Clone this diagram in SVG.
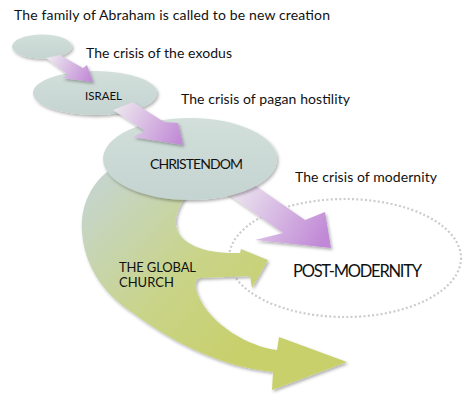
<svg xmlns="http://www.w3.org/2000/svg" width="464" height="404" viewBox="0 0 464 404">
<defs>
<style>
.t{font-family:Lato,"Open Sans","Liberation Sans",sans-serif;fill:#111;}
.lbl{font-size:14px;}
.ell{fill:url(#gEll);filter:url(#sh);}
</style>
<filter id="sh" x="-20%" y="-20%" width="140%" height="140%">
<feDropShadow dx="1.5" dy="2" stdDeviation="1.5" flood-color="#000" flood-opacity="0.3"/>
</filter>
<linearGradient id="gEll" x1="0" y1="0" x2="0" y2="1">
<stop offset="0" stop-color="#d2dfdb"/>
<stop offset="1" stop-color="#c4d4d0"/>
</linearGradient>
<linearGradient id="gGreen" gradientUnits="userSpaceOnUse" x1="90" y1="190" x2="250" y2="340">
<stop offset="0" stop-color="#c5d5cc"/>
<stop offset="0.55" stop-color="#c9d48a"/>
<stop offset="1" stop-color="#c8d06c"/>
</linearGradient>
<linearGradient id="gP1" gradientUnits="userSpaceOnUse" x1="50" y1="56" x2="90" y2="80">
<stop offset="0" stop-color="#ece6ee"/>
<stop offset="1" stop-color="#c28bd6"/>
</linearGradient>
<linearGradient id="gP2" gradientUnits="userSpaceOnUse" x1="118" y1="104" x2="180" y2="140">
<stop offset="0" stop-color="#ece6ee"/>
<stop offset="1" stop-color="#c28bd6"/>
</linearGradient>
<linearGradient id="gP3" gradientUnits="userSpaceOnUse" x1="230" y1="185" x2="325" y2="240">
<stop offset="0" stop-color="#eeeaf0"/>
<stop offset="1" stop-color="#c088d6"/>
</linearGradient>
</defs>
<rect width="464" height="404" fill="#fff"/>

<g id="node-postmodernity">
<ellipse cx="345" cy="258" rx="116" ry="59" fill="none" stroke="#cccccc" stroke-width="2.2" stroke-dasharray="2 2.3"/>
<text class="t" x="293" y="277" font-size="16.5" textLength="129">POST-MODERNITY</text>
</g>

<g id="node-global-church">
<path d="M112,168 C92,182 80,205 82,232 C84,262 100,292 133,313 C165,337 215,366 273,372 L272,390 L347,362 L279,337 L277,350 C250,347 210,325 198,295 C195,287 194,280 200,278 L250,276 L252,288 L268,260 L241,249 L240,253 C210,254 186,247 178,232 C172,218 180,205 186,196 L200,190 L160,160 Z" fill="url(#gGreen)" filter="url(#sh)"/>
<text class="t" x="119" y="272" font-size="13" textLength="77">THE GLOBAL</text>
<text class="t" x="119" y="287" font-size="13">CHURCH</text>
</g>

<g id="connectors">
<path id="arrow-modernity" d="M240,175 L305,220 L325,212 L331,248 L255,240 L283,233 L222,190 Z" fill="url(#gP3)" filter="url(#sh)"/>
</g>

<g id="node-origin">
<ellipse class="ell" cx="42" cy="46.5" rx="30" ry="12"/>
</g>
<g id="node-israel">
<ellipse class="ell" cx="95" cy="93" rx="62" ry="22"/>
<text class="t" x="85" y="100" font-size="11.5" textLength="37">ISRAEL</text>
</g>
<g id="node-christendom">
<ellipse class="ell" cx="190" cy="159" rx="87" ry="41"/>
<text class="t" x="150" y="169" font-size="14" textLength="93">CHRISTENDOM</text>
</g>

<g id="connectors-top">
<path id="arrow-exodus" d="M60,55 L83,68 L87,65 L93,82 L62,78 L68,75 L46,58 Z" fill="url(#gP1)" filter="url(#sh)"/>
<path id="arrow-pagan" d="M133,102 L164,122 L178,123 L183,145 L133,137 L145,131 L113,110 Z" fill="url(#gP2)" filter="url(#sh)"/>
</g>

<g id="labels">
<text class="t lbl" x="14" y="20" textLength="316">The family of Abraham is called to be new creation</text>
<text class="t lbl" x="86" y="58" textLength="146">The crisis of the exodus</text>
<text class="t lbl" x="181" y="104" textLength="169">The crisis of pagan hostility</text>
<text class="t lbl" x="295" y="182" textLength="142">The crisis of modernity</text>
</g>
</svg>
